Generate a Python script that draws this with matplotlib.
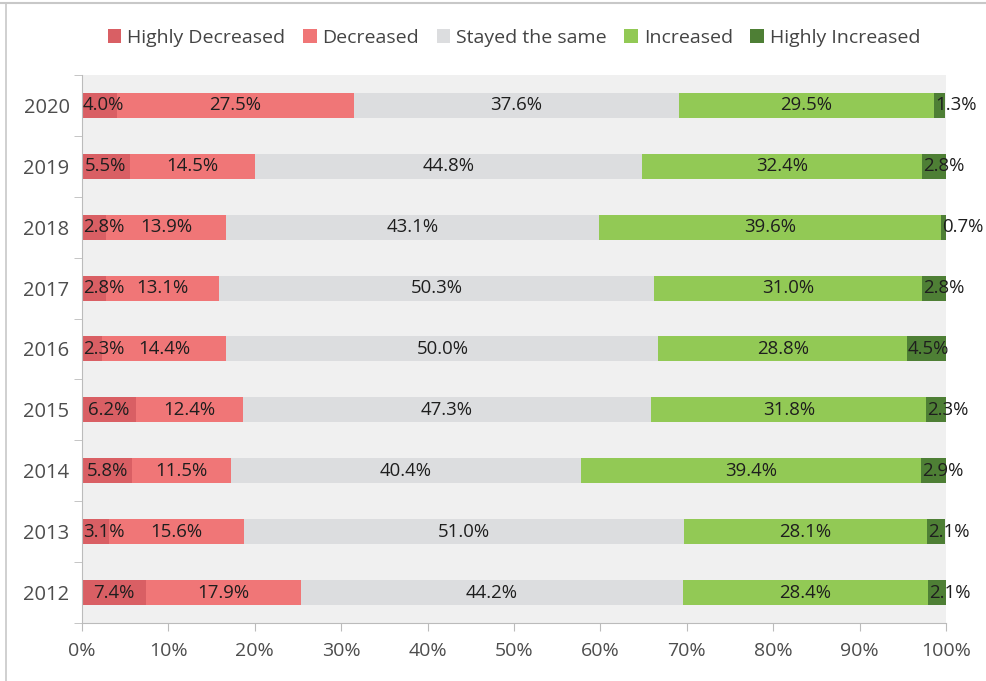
import matplotlib.pyplot as plt
import numpy as np
from matplotlib.lines import Line2D
from matplotlib.patches import Patch

plt.rcParams['font.family'] = ['Open Sans', 'DejaVu Sans']

years = ['2020', '2019', '2018', '2017', '2016', '2015', '2014', '2013', '2012']
highly_decreased = [4.0, 5.5, 2.8, 2.8, 2.3, 6.2, 5.8, 3.1, 7.4]
decreased = [27.5, 14.5, 13.9, 13.1, 14.4, 12.4, 11.5, 15.6, 17.9]
stayed_same = [37.6, 44.8, 43.1, 50.3, 50.0, 47.3, 40.4, 51.0, 44.2]
increased = [29.5, 32.4, 39.6, 31.0, 28.8, 31.8, 39.4, 28.1, 28.4]
highly_increased = [1.3, 2.8, 0.7, 2.8, 4.5, 2.3, 2.9, 2.1, 2.1]

series_names = ['Highly Decreased', 'Decreased', 'Stayed the same',
                'Increased', 'Highly Increased']
series_values = [highly_decreased, decreased, stayed_same, increased,
                 highly_increased]
colors = ['#d95f64', '#f07677', '#dcdddf', '#92c955', '#4e7f35']

fig = plt.figure(figsize=(9.87, 6.81), dpi=100)
ax = fig.add_axes([0.0831, 0.0852, 0.8754, 0.8047])
ax.set_facecolor('#f0f0f0')

label_kw = dict(va='center', fontsize=13.4, color='#1e1e1e')

pos = np.arange(len(years))
left = np.zeros(len(years))
for i, (name, vals, col) in enumerate(zip(series_names, series_values, colors)):
    vals = np.array(vals)
    ax.barh(pos, vals, left=left, height=0.41, color=col, label=name)
    for p, v, l in zip(pos, vals, left):
        txt = f'{v:.1f}%'
        # small end segments get their label pinned to the segment start
        if (i == 0 and v <= 4.0) or i == 4:
            ax.text(l + 0.1, p, txt, ha='left', **label_kw)
        else:
            ax.text(l + v / 2, p, txt, ha='center', **label_kw)
    left += vals

ax.set_xlim(0, 100)
ax.set_ylim(len(years) - 0.5, -0.5)

xt = np.arange(0, 101, 10)
ax.set_xticks(xt)
ax.set_xticklabels([f'{t}%' for t in xt])
ax.set_yticks(pos)
ax.set_yticklabels(years)
ax.set_yticks(np.arange(-0.5, len(years)), minor=True)
ax.tick_params(axis='y', which='major', length=0, pad=9, labelsize=14.5,
               labelcolor='#4d4d4d')
ax.tick_params(axis='y', which='minor', length=6, color='#bbbbbb')
ax.tick_params(axis='x', length=6, color='#bbbbbb', pad=8, labelsize=14,
               labelcolor='#4d4d4d')

for s in ['top', 'right']:
    ax.spines[s].set_visible(False)
for s in ['left', 'bottom']:
    ax.spines[s].set_color('#bbbbbb')

# legend centred over the plot area
handles = [Patch(facecolor=c, edgecolor='none') for c in colors]
fig.legend(handles, series_names, loc='center',
           bbox_to_anchor=(0.0831 + 0.8754 / 2, 1 - 38 / 681),
           ncol=5, frameon=False, fontsize=14, handlelength=0.7,
           handleheight=0.7, handletextpad=0.3, columnspacing=0.9,
           labelcolor='#444444')

# card border along the top and left edges
fig.add_artist(Line2D([0, 1], [1 - 3 / 681, 1 - 3 / 681], color='#c8c8c8',
                      lw=1.5, transform=fig.transFigure))
fig.add_artist(Line2D([6 / 987, 6 / 987], [0, 1 - 3 / 681], color='#c8c8c8',
                      lw=1.2, transform=fig.transFigure))

fig.savefig('out.png', dpi=100)
